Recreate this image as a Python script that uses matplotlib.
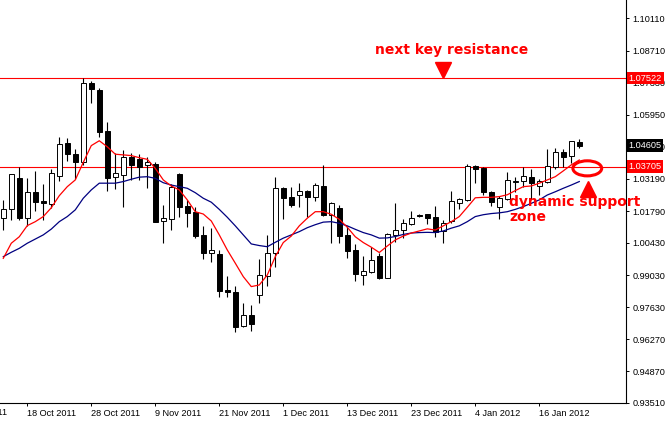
import numpy as np
import pandas as pd
import matplotlib
matplotlib.use("Agg")
import matplotlib.pyplot as plt
import matplotlib.transforms as mtransforms
from matplotlib.patches import Ellipse

# --- DATA (daily EUR-style candles) ---
start_date = "2011-10-13"

opens = [1.0148, 1.0187, 1.0321, 1.0150, 1.0260, 1.0222, 1.0208, 1.0329, 1.0471, 1.0425,
         1.0392, 1.0729, 1.0699, 1.0524, 1.0325, 1.0333, 1.0411, 1.0403, 1.0376, 1.0381,
         1.0137, 1.0143, 1.0339, 1.0201, 1.0174, 1.0076, 0.9997, 0.9994, 0.9839, 0.9829,
         0.9685, 0.9732, 0.9818, 0.9900, 0.9997, 1.0278, 1.0240, 1.0249, 1.0264, 1.0241,
         1.0287, 1.0161, 1.0192, 1.0076, 1.0011, 0.9905, 0.9917, 0.9985, 0.9892, 1.0074,
         1.0096, 1.0124, 1.0159, 1.0165, 1.0152, 1.0093, 1.0136, 1.0212, 1.0225, 1.0373,
         1.0365, 1.0261, 1.0198, 1.0232, 1.0304, 1.0309, 1.0327, 1.0287, 1.0304, 1.0368,
         1.0432, 1.0416, 1.0477]
highs = [1.0225, 1.0339, 1.0369, 1.0321, 1.0352, 1.0296, 1.0360, 1.0498, 1.0494, 1.0447,
         1.0752, 1.0738, 1.0710, 1.0563, 1.0428, 1.0442, 1.0431, 1.0425, 1.0411, 1.0390,
         1.0205, 1.0296, 1.0341, 1.0225, 1.0195, 1.0115, 1.0105, 1.0011, 0.9899, 0.9856,
         0.9781, 0.9774, 0.9971, 1.0076, 1.0324, 1.0281, 1.0281, 1.0299, 1.0270, 1.0299,
         1.0378, 1.0219, 1.0205, 1.0115, 1.0036, 0.9985, 1.0025, 0.9997, 1.0086, 1.0215,
         1.0145, 1.0179, 1.0164, 1.0168, 1.0199, 1.0140, 1.0265, 1.0233, 1.0382, 1.0379,
         1.0368, 1.0264, 1.0245, 1.0346, 1.0325, 1.0370, 1.0359, 1.0318, 1.0445, 1.0451,
         1.0448, 1.0482, 1.0488]
lows = [1.0096, 1.0139, 1.0139, 1.0113, 1.0178, 1.0139, 1.0193, 1.0309, 1.0395, 1.0316,
        1.0378, 1.0645, 1.0498, 1.0265, 1.0275, 1.0198, 1.0313, 1.0313, 1.0277, 1.0132,
        1.0041, 1.0097, 1.0155, 1.0108, 1.0063, 0.9971, 0.9961, 0.9807, 0.9810, 0.9659,
        0.9680, 0.9663, 0.9784, 0.9856, 0.9939, 1.0145, 1.0198, 1.0195, 1.0153, 1.0224,
        1.0159, 1.0043, 1.0043, 0.9975, 0.9877, 0.9860, 0.9911, 0.9886, 0.9889, 1.0046,
        1.0063, 1.0119, 1.0153, 1.0123, 1.0067, 1.0040, 1.0126, 1.0188, 1.0222, 1.0299,
        1.0247, 1.0201, 1.0143, 1.0227, 1.0262, 1.0284, 1.0230, 1.0247, 1.0301, 1.0359,
        1.0368, 1.0387, 1.0452]
closes = [1.0187, 1.0337, 1.0148, 1.0260, 1.0219, 1.0215, 1.0342, 1.0467, 1.0424, 1.0392,
          1.0729, 1.0706, 1.0521, 1.0323, 1.0342, 1.0411, 1.0379, 1.0370, 1.0389, 1.0133,
          1.0148, 1.0283, 1.0198, 1.0172, 1.0073, 0.9997, 1.0011, 0.9836, 0.9831, 0.9680,
          0.9732, 0.9692, 0.9902, 0.9997, 1.0278, 1.0237, 1.0205, 1.0264, 1.0241, 1.0290,
          1.0162, 1.0212, 1.0071, 1.0008, 0.9906, 0.9919, 0.9968, 0.9892, 1.0079, 1.0097,
          1.0127, 1.0148, 1.0158, 1.0150, 1.0089, 1.0129, 1.0221, 1.0230, 1.0372, 1.0362,
          1.0260, 1.0219, 1.0235, 1.0313, 1.0307, 1.0330, 1.0301, 1.0307, 1.0372, 1.0432,
          1.0413, 1.0480, 1.04605]

# moving averages as drawn (red = fast, blue = slow)
ma_fast = [0.9975, 1.0040, 1.0068, 1.0116, 1.0133, 1.0155, 1.0193, 1.0245, 1.0284, 1.0313,
           1.0389, 1.0461, 1.0482, 1.0456, 1.0424, 1.0421, 1.0418, 1.0409, 1.0402, 1.0363,
           1.0313, 1.0287, 1.0270, 1.0227, 1.0176, 1.0166, 1.0136, 1.0076, 1.0011, 0.9954,
           0.9896, 0.9853, 0.9860, 0.9903, 0.9982, 1.0043, 1.0071, 1.0115, 1.0148, 1.0176,
           1.0176, 1.0165, 1.0143, 1.0109, 1.0068, 1.0043, 1.0023, 1.0000, 1.0028, 1.0054,
           1.0071, 1.0084, 1.0093, 1.0102, 1.0097, 1.0115, 1.0133, 1.0155, 1.0195, 1.0236,
           1.0238, 1.0238, 1.0241, 1.0249, 1.0267, 1.0284, 1.0287, 1.0299, 1.0313, 1.0327,
           1.0352, 1.0378, 1.0399]
ma_slow = [0.9982, 1.0001, 1.0018, 1.0040, 1.0058, 1.0076, 1.0101, 1.0133, 1.0155, 1.0184,
           1.0234, 1.0270, 1.0299, 1.0299, 1.0299, 1.0306, 1.0316, 1.0325, 1.0327, 1.0320,
           1.0301, 1.0291, 1.0284, 1.0277, 1.0258, 1.0234, 1.0217, 1.0186, 1.0152, 1.0115,
           1.0076, 1.0037, 1.0030, 1.0025, 1.0044, 1.0062, 1.0076, 1.0090, 1.0107, 1.0120,
           1.0131, 1.0133, 1.0126, 1.0115, 1.0100, 1.0086, 1.0076, 1.0062, 1.0063, 1.0069,
           1.0078, 1.0084, 1.0086, 1.0087, 1.0086, 1.0093, 1.0105, 1.0115, 1.0133, 1.0155,
           1.0163, 1.0168, 1.0171, 1.0176, 1.0186, 1.0198, 1.0212, 1.0227, 1.0248, 1.0262,
           1.0277, 1.0291, 1.0306]

resistance = 1.07522
support = 1.03705
last_price = 1.04605

price_ticks = [1.10110, 1.08710, 1.07330, 1.05950, 1.04590, 1.03190, 1.01790,
               1.00430, 0.99030, 0.97630, 0.96270, 0.94870, 0.93510]
date_tick_idx = [3, 11, 19, 27, 35, 43, 51, 59, 67]

# --- FIGURE ---
fig = plt.figure(figsize=(6.68, 4.25), dpi=100)
ax = fig.add_axes([0, 22 / 425, 626 / 668, 403 / 425])

x = np.arange(len(closes))
o = np.array(opens)
c = np.array(closes)
dates = pd.bdate_range(start_date, periods=len(closes))

# wicks then bodies
ax.vlines(x, lows, highs, color="black", linewidth=0.8, zorder=2)
bottoms = np.minimum(o, c)
heights = np.maximum(np.abs(c - o), 0.00025)
body_colors = ["white" if cc >= oo else "black" for oo, cc in zip(o, c)]
ax.bar(x, heights, bottom=bottoms, width=0.62, color=body_colors,
       edgecolor="black", linewidth=0.7, zorder=3)

# moving averages
ax.plot(x, ma_slow, color="#000080", linewidth=0.9, zorder=4)
ax.plot(x, ma_fast, color="red", linewidth=0.9, zorder=4)

# horizontal levels
ax.axhline(resistance, color="red", linewidth=0.8, zorder=1.5)
ax.axhline(support, color="red", linewidth=0.8, zorder=1.5)

ax.set_xlim(-0.41, -0.41 + 626 / 8)
ax.set_ylim(0.9351, 1.1089)

# spines / ticks MT4 style
for s in ["top", "left"]:
    ax.spines[s].set_visible(False)
for s in ["right", "bottom"]:
    ax.spines[s].set_linewidth(0.8)

tick_font = dict(family="Liberation Sans", size=6.6)
ax.yaxis.tick_right()
ax.set_yticks(price_ticks)
ax.set_yticklabels([f"{v:.5f}" for v in price_ticks], **tick_font)
ax.tick_params(axis="y", length=2.5, width=0.7, pad=2)

ax.set_xticks(date_tick_idx)
ax.set_xticklabels([f"{dates[i].day} {dates[i]:%b %Y}" for i in date_tick_idx],
                   ha="left", **tick_font)
ax.tick_params(axis="x", length=2.5, width=0.7, pad=2)

# partial label cut by the left edge
xtrans = mtransforms.blended_transform_factory(ax.transData, ax.transAxes)
prev_day = dates[0] - pd.offsets.BDay(5)
ax.text(-5, -0.013, f"{prev_day.day} {prev_day:%b %Y}", transform=xtrans,
        ha="left", va="top", clip_on=False, **tick_font)

# price boxes on the right scale
ytrans = mtransforms.blended_transform_factory(ax.transAxes, ax.transData)
for val, bg in [(resistance, "red"), (last_price, "black"), (support, "red")]:
    ax.text(1.004, val, f"{val:.5f}", transform=ytrans, ha="left", va="center",
            color="white", clip_on=False, zorder=10, **tick_font,
            bbox=dict(boxstyle="square,pad=0.2", facecolor=bg, edgecolor="none"))

# annotations
ann_font = dict(family="DejaVu Sans", size=10, weight="bold", color="red")
ax.text(46.5, 1.0875, "next key resistance", ha="left", va="center", **ann_font)
ax.plot(55, 1.0785, marker="v", markersize=12, color="red", zorder=6)

ax.add_patch(Ellipse((73.0, 1.0363), width=3.6, height=0.0065, fill=False,
                     edgecolor="red", linewidth=2.2, zorder=6))
ax.plot(73.1, 1.0276, marker="^", markersize=12, color="red", zorder=6)
ax.text(63.2, 1.0185, "dynamic support\nzone", ha="left", va="center",
        linespacing=1.05, clip_on=False, zorder=7, **ann_font)

fig.savefig("out.png", dpi=100)
